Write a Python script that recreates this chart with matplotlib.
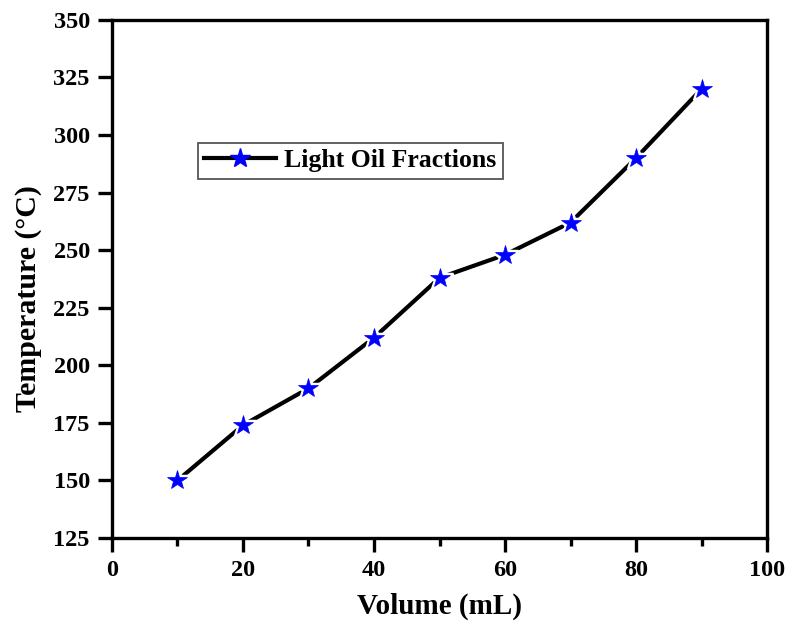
import matplotlib
matplotlib.use("Agg")
import matplotlib.pyplot as plt
from matplotlib.ticker import MultipleLocator
from matplotlib.lines import Line2D

volume = [10, 20, 30, 40, 50, 60, 70, 80, 90]
temperature = [150, 174, 190, 212, 238, 248, 262, 290, 320]
series_label = "Light Oil Fractions"

plt.rcParams['font.family'] = ['Liberation Serif', 'DejaVu Serif']
plt.rcParams['font.weight'] = 'bold'

fig = plt.figure(figsize=(7.87, 6.22), dpi=100)
ax = fig.add_axes([0.1423, 0.135, 0.8323, 0.833])

# line with white halo markers to create gaps, then blue stars on top
ax.plot(volume, temperature, color='black', lw=3, marker='*', markersize=20,
        markerfacecolor='white', markeredgecolor='white', markeredgewidth=2.5,
        zorder=3)
ax.plot(volume, temperature, ls='none', marker='*', markersize=15,
        markerfacecolor='blue', markeredgecolor='blue', markeredgewidth=0.5, zorder=4)

ax.set_xlim(0, 100)
ax.set_ylim(125, 350)
ax.xaxis.set_major_locator(MultipleLocator(20))
ax.xaxis.set_minor_locator(MultipleLocator(10))
ax.yaxis.set_major_locator(MultipleLocator(25))

for s in ax.spines.values():
    s.set_linewidth(2.4)
ax.tick_params(which='major', direction='out', length=10, width=2.4, labelsize=17.5)
ax.tick_params(axis='y', which='major', pad=6)
ax.tick_params(axis='x', which='major', pad=6)
ax.tick_params(which='minor', direction='out', length=6, width=2.4)
for lbl in ax.get_xticklabels() + ax.get_yticklabels():
    lbl.set_fontweight('bold')

ax.set_xlabel('Volume (mL)', fontsize=21, fontweight='bold', labelpad=8)
ax.set_ylabel('Temperature (°C)', fontsize=21.5, fontweight='bold', labelpad=8)
ax.yaxis.label.set_y(0.463)

h = Line2D([], [], color='black', lw=3, marker='*', markersize=15,
           markerfacecolor='blue', markeredgecolor='blue')
leg = ax.legend([h], [series_label], loc='upper left', bbox_to_anchor=(0.131, 0.763),
                borderaxespad=0, fancybox=False, framealpha=1, edgecolor='#555555',
                prop={'size': 18.5, 'weight': 'bold'}, handlelength=2.8,
                borderpad=0.25, handletextpad=0.3)
leg.get_frame().set_linewidth(1.3)

fig.savefig('out.png', dpi=100)
